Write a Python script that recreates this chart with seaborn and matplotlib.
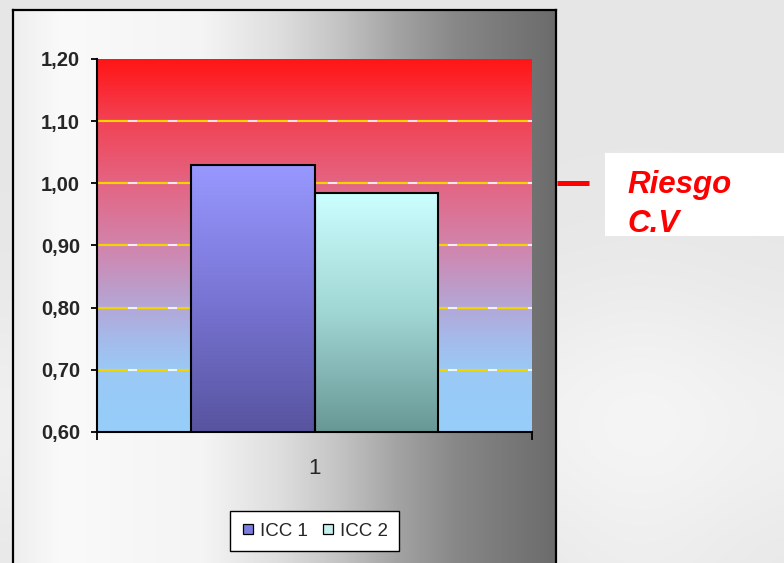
import numpy as np
import pandas as pd
import matplotlib
matplotlib.use("Agg")
import matplotlib.pyplot as plt
import matplotlib.transforms as mtransforms
from matplotlib.lines import Line2D
from matplotlib.patches import Rectangle
import seaborn as sns

# ---- data -------------------------------------------------------------
categories = ["1"]
series = ["ICC 1", "ICC 2"]
values = [1.03, 0.985]
y_ticks = [0.60, 0.70, 0.80, 0.90, 1.00, 1.10, 1.20]
grid_levels = [0.70, 0.80, 0.90, 1.00, 1.10]
risk_level = 1.00
risk_label = ["Riesgo", "C.V"]

# ---- style ------------------------------------------------------------
sns.set_style("white")
plt.rcParams["font.family"] = ["Liberation Sans", "DejaVu Sans"]
plt.rcParams["lines.scale_dashes"] = False

W, H = 784, 563
fig = plt.figure(figsize=(W / 100, H / 100), dpi=100)


def fx(px):
    return px / W


def fy(py):
    return 1 - py / H


def ramp(stops, n=256):
    """Colour ramp (n x 3) from (position, rgb255) stops."""
    pos = np.array([s[0] for s in stops], float)
    cols = np.array([s[1] for s in stops], float) / 255
    t = np.linspace(0, 1, n)
    return np.stack([np.interp(t, pos, cols[:, k]) for k in range(3)], axis=-1)


# ---- slide background ---------------------------------------------------
bg = fig.add_axes([0, 0, 1, 1], zorder=-3)
yy, xx = np.mgrid[0:H:4, 0:W:4]
lower = 1 / (1 + np.exp(-(yy - 280) / 40.0))
val = (0.905 + 0.035 * np.exp(-((yy - 420) / 120.0) ** 2)
       + 0.02 * np.exp(-((xx - 640) / 100.0) ** 2) * lower)
val = np.clip(val, 0, 1)
bg.imshow(np.dstack([val, val, val]), extent=[0, 1, 0, 1], aspect="auto",
          interpolation="bilinear")
bg.set_axis_off()

# ---- chart panel ------------------------------------------------------
pan = fig.add_axes([fx(13), fy(570), fx(556) - fx(13), fy(10) - fy(570)], zorder=-2)
panel_ramp = ramp([(0.00, (238, 238, 238)), (0.09, (250, 250, 250)),
                   (0.35, (244, 244, 244)), (0.49, (222, 222, 222)),
                   (0.60, (196, 196, 196)), (0.71, (163, 163, 163)),
                   (0.82, (135, 135, 135)), (0.93, (118, 118, 118)),
                   (1.00, (108, 108, 108))])
pan.imshow(panel_ramp[None, :, :], extent=[0, 1, 0, 1], aspect="auto",
           interpolation="bilinear")
pan.set_xticks([])
pan.set_yticks([])
for s in pan.spines.values():
    s.set_color("black")
    s.set_linewidth(1.6)

# ---- plot area ----------------------------------------------------------
ax = fig.add_axes([fx(97), fy(432), fx(532) - fx(97), fy(59) - fy(432)], zorder=1)
ax.set_facecolor("none")

df = pd.DataFrame({
    "cat": categories * len(series),
    "serie": series,
    "valor": values,
})
top_colors = ["#9898ff", "#ccffff"]
sns.barplot(data=df, x="cat", y="valor", hue="serie", palette=top_colors,
            width=0.57, saturation=1, edgecolor="black", linewidth=1.5,
            legend=False, ax=ax, zorder=3)

ymin, ymax = y_ticks[0], y_ticks[-1]

# vertical red -> blue wash behind the bars
area_ramp = ramp([(0.00, (255, 22, 22)), (0.08, (250, 42, 52)),
                  (0.17, (241, 68, 86)), (0.33, (228, 100, 130)),
                  (0.50, (210, 132, 172)), (0.67, (178, 168, 216)),
                  (0.75, (165, 186, 234)), (0.83, (155, 200, 245)),
                  (1.00, (150, 206, 250))])
ax.imshow(area_ramp[:, None, :], extent=[-0.5, 0.5, ymin, ymax], aspect="auto",
          origin="upper", interpolation="bilinear", zorder=0)

# dashed yellow/white gridlines
for lvl in grid_levels:
    ax.axhline(lvl, color="white", lw=1.5, alpha=0.85, zorder=1)
    ax.axhline(lvl, color="#f2d400", lw=1.5, dashes=(22.3, 6.5), zorder=1.1)

# gradient fill for each bar
bar_ramps = [
    ramp([(0.0, (152, 152, 255)), (0.5, (120, 117, 212)), (1.0, (88, 84, 160))]),
    ramp([(0.0, (204, 255, 255)), (0.5, (160, 214, 212)), (1.0, (104, 152, 150))]),
]
for patch, rmp in zip(ax.patches, bar_ramps):
    x0 = patch.get_x()
    w = patch.get_width()
    top = patch.get_y() + patch.get_height()
    ax.imshow(rmp[:, None, :], extent=[x0, x0 + w, ymin, top], aspect="auto",
              origin="upper", interpolation="bilinear", zorder=2.5)
    patch.set_facecolor("none")

ax.set_xlim(-0.5, 0.5)
ax.set_ylim(ymin, ymax)
ax.set_xlabel("")
ax.set_ylabel("")

ax.set_yticks(y_ticks)
ax.set_yticklabels([f"{v:.2f}".replace(".", ",") for v in y_ticks],
                   fontsize=14.5, fontweight="bold")
ax.tick_params(axis="y", left=True, length=4.3, width=1.3, pad=8.0,
               direction="out", color="black")
ax.set_xticks([0])
ax.set_xticklabels(categories, fontsize=16)
ax.tick_params(axis="x", which="major", length=0, pad=19)
ax.set_xticks([-0.5, 0.5], minor=True)
ax.tick_params(axis="x", which="minor", bottom=True, length=5.8, width=1.3,
               direction="out", color="black")

for side in ("top", "right"):
    ax.spines[side].set_visible(False)
for side in ("left", "bottom"):
    ax.spines[side].set_color("black")
    ax.spines[side].set_linewidth(1.5)
    ax.spines[side].set_zorder(5)

# ---- legend -------------------------------------------------------------
legend_colors = ["#7c7ce0", "#c4f0ee"]
handles = [Line2D([], [], ls="none", marker="s", markersize=7.5,
                  markerfacecolor=c, markeredgecolor="black",
                  markeredgewidth=0.9) for c in legend_colors]
leg = fig.legend(handles, series, loc="center",
                 bbox_to_anchor=(fx(314.5), fy(531)), ncol=2, frameon=True,
                 fancybox=False, edgecolor="black", facecolor="white",
                 framealpha=1, fontsize=13.5, handlelength=0.7,
                 handletextpad=0.3, columnspacing=0.7, borderpad=0.6)
leg.get_frame().set_linewidth(1.0)

# ---- risk marker and label ----------------------------------------------
trans = mtransforms.blended_transform_factory(fig.transFigure, ax.transData)
fig.add_artist(Line2D([fx(557), fx(589)], [risk_level, risk_level],
                      transform=trans, color="#ff0000", lw=3.6,
                      solid_capstyle="butt"))
fig.add_artist(Rectangle((fx(605), fy(236)), 1 - fx(605), fy(153) - fy(236),
                         transform=fig.transFigure, facecolor="white",
                         edgecolor="none"))
for line, base in zip(risk_label, (193, 232)):
    fig.text(fx(627), fy(base), line, color="#ff0000", fontsize=22.5,
             fontweight="bold", fontstyle="italic", va="baseline", ha="left")

fig.savefig("out.png", dpi=100)
